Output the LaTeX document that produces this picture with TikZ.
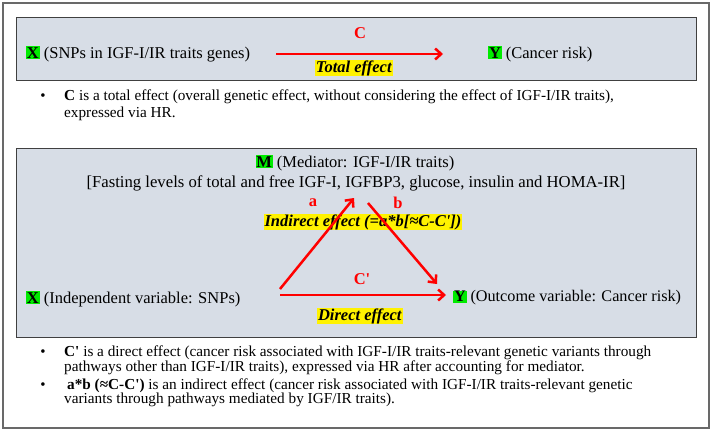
\documentclass[tikz,border=0pt]{standalone}
\usepackage{fontspec}
\setmainfont{Liberation Serif}
\usetikzlibrary{arrows.meta}

\definecolor{panelfill}{RGB}{215,221,230}
\definecolor{framegray}{RGB}{105,105,105}
\definecolor{markgreen}{RGB}{0,235,0}
\newcommand{\greenmark}[1]{{\setlength{\fboxsep}{0.8pt}\colorbox{markgreen}{\textbf{#1}}}}
\newcommand{\yellowmark}[1]{{\setlength{\fboxsep}{0.8pt}\colorbox{yellow}{\textbf{\textit{#1}}}}}
\newcommand{\prm}{\textquotesingle}

\tikzset{
  panel/.style={draw=black!75, line width=1pt, fill=panelfill},
  effect/.style={draw=red, line width=2.5pt, -{Straight Barb[length=6pt,width=11pt]}},
  pathlabel/.style={text=red, font=\bfseries\fontsize{16.5}{16}\selectfont, inner sep=0pt},
  hltext/.style={font=\fontsize{16.5}{16}\selectfont, inner sep=0pt},
  txt/.style={font=\fontsize{16.5}{16}\selectfont, inner sep=0pt, anchor=west},
  bulletdot/.style={font=\fontsize{15}{15}\selectfont, inner sep=0pt},
  notetext/.style={font=\fontsize{15.25}{17}\selectfont, inner sep=0pt, anchor=west, align=left}
}

\begin{document}
\begin{tikzpicture}[x=1pt, y=-1pt]
	\useasboundingbox (0,0) rectangle (712,432);
	\draw[framegray, line width=1.2pt] (3,3) rectangle (709,428); % outer frame
\fill[panel] (16,17) rectangle (696,80); % total effect panel
\fill[panel] (16,148) rectangle (696,337); % mediation panel

% total effect
\node[txt] (snpx) at (26,54) {\greenmark{X} (SNPs in IGF-I/IR traits genes)};
\node[txt] (riskx) at (488,54) {\greenmark{Y} (Cancer risk)};
\coordinate (tot0) at (276,54);
\coordinate (tot1) at (443,54);
\draw[effect] (tot0) -- (tot1); % C
\node[pathlabel] (lblc) at (360,33) {C};
\node[hltext] (totl) at (354,68) {\yellowmark{Total effect}};

\node[bulletdot] (dot1) at (43,97) {•};
\node[notetext] (note1) at (64,105.5) {\textbf{C} is a total effect (overall genetic effect, without considering the effect of IGF-I/IR traits),\\expressed via HR.};

% mediation
\node[hltext] (medm) at (355,163) {\greenmark{M} (Mediator: IGF-I/IR traits)};
\node[hltext, font=\fontsize{16.7}{16}\selectfont] (medl) at (356,183) {[Fasting levels of total and free IGF-I, IGFBP3, glucose, insulin and HOMA-IR]};
\node[txt] (indx) at (26,299) {\greenmark{X} (Independent variable: SNPs)};
\node[txt, font=\fontsize{16.2}{16}\selectfont] (outy) at (453,298) {\greenmark{Y} (Outcome variable: Cancer risk)};
\coordinate (ta0) at (280,289);
\coordinate (ta1) at (354,198);
\coordinate (tb0) at (368,203);
\coordinate (tb1) at (437,284);
\coordinate (tc0) at (280,295);
\coordinate (tc1) at (446,295);
\node[hltext] (indl) at (363,222) {\yellowmark{Indirect effect (=a*b[≈C-C\prm])}};
\draw[effect] (ta0) -- (ta1); % a
\draw[effect] (tb0) -- (tb1); % b
\draw[effect] (tc0) -- (tc1); % C'
\node[pathlabel] (lbla) at (313,203) {a};
\node[pathlabel] (lblb) at (398,203) {b};
\node[pathlabel] (lblcp) at (362,279) {C\prm};
\node[hltext] (dirl) at (360,316) {\yellowmark{Direct effect}};

\node[bulletdot] (dot2) at (43,353) {•};
\node[notetext, font=\fontsize{15.25}{14.5}\selectfont] (note2) at (64,360.5) {\textbf{C\prm} is a direct effect (cancer risk associated with IGF-I/IR traits-relevant genetic variants through\\pathways other than IGF-I/IR traits), expressed via HR after accounting for mediator.};
\node[bulletdot] (dot3) at (43,386) {•};
\node[notetext, font=\fontsize{15.25}{14.5}\selectfont] (note3) at (64,393) {\hspace{3pt}\textbf{a*b (≈C-C\prm)} is an indirect effect (cancer risk associated with IGF-I/IR traits-relevant genetic\\variants through pathways mediated by IGF/IR traits).};

	\end{tikzpicture}
\end{document}
